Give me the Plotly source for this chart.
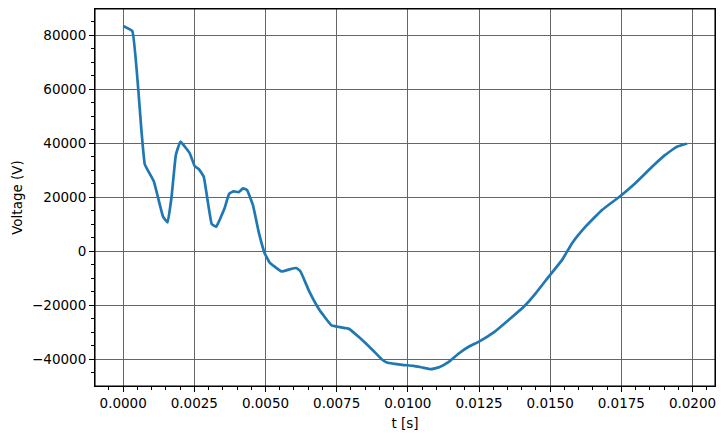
import plotly.graph_objects as go

t_s = [0.0, 0.00032, 0.00064, 0.00076, 0.00108, 0.0014, 0.00156, 0.0017, 0.00185, 0.00201,
       0.00234, 0.00251, 0.00266, 0.00283, 0.00311, 0.00327, 0.00356, 0.00372, 0.00388, 0.00406,
       0.00421, 0.00435, 0.00456, 0.00477, 0.00497, 0.00514, 0.00532, 0.00557, 0.00584, 0.00608,
       0.00623, 0.00654, 0.00689, 0.00732, 0.00754, 0.00794, 0.0083, 0.00876, 0.00911, 0.00929,
       0.00981, 0.0102, 0.01051, 0.01081, 0.0111, 0.01145, 0.0118, 0.01215, 0.0125, 0.01303,
       0.01355, 0.01408, 0.01449, 0.01495, 0.01542, 0.01577, 0.01624, 0.01682, 0.01747, 0.01799,
       0.01858, 0.01904, 0.01945, 0.01977, 0.0198]
voltage = [83500, 81600, 44900, 32200, 25800, 12800, 10700, 20200, 35700, 40600,
           36300, 31600, 30400, 27600, 10100, 9100, 15900, 21300, 22200, 21900,
           23300, 22700, 17000, 6700, -700, -4100, -5700, -7500, -6700, -6200,
           -7500, -15000, -21700, -27500, -28000, -28800, -32000, -36600, -40300, -41300,
           -42100, -42500, -43100, -43700, -43000, -40900, -37800, -35300, -33500, -30000,
           -25400, -20500, -15600, -9400, -3200, 3000, 9100, 15300, 20500, 25200,
           31300, 35700, 38700, 39800, 40000]

x_ticks = [0.0, 0.0025, 0.005, 0.0075, 0.01, 0.0125, 0.015, 0.0175, 0.02]
x_labels = ["0.0000", "0.0025", "0.0050", "0.0075", "0.0100", "0.0125", "0.0150", "0.0175", "0.0200"]
y_ticks = [-40000, -20000, 0, 20000, 40000, 60000, 80000]
y_labels = ["\u221240000", "\u221220000", "0", "20000", "40000", "60000", "80000"]

font = dict(family="DejaVu Sans", size=13.5, color="black")

fig = go.Figure()
fig.add_trace(go.Scatter(x=t_s, y=voltage, mode="lines",
                         line=dict(color="#1f77b4", width=2.7, shape="spline", smoothing=0.3),
                         showlegend=False))

axis_common = dict(
    showline=True, linecolor="black", linewidth=1.1, mirror=True,
    showgrid=True, gridcolor="#666666", gridwidth=1.1,
    zeroline=False, ticks="outside", ticklen=5, tickwidth=1.1, tickcolor="black",
    tickfont=font, automargin=False,
)

fig.update_layout(
    width=725, height=440,
    margin=dict(l=95, r=10, t=9, b=54),
    paper_bgcolor="white", plot_bgcolor="white",
    font=font,
    xaxis=dict(range=[-0.00099, 0.02079], tickvals=x_ticks, ticktext=x_labels,
               title=dict(text="t [s]", font=font, standoff=8),
               minor=dict(dtick=0.0005, tick0=0, ticks="outside", ticklen=3, tickwidth=0.9,
                          tickcolor="black", showgrid=False),
               **axis_common),
    yaxis=dict(range=[-49950, 89790], tickvals=y_ticks, ticktext=y_labels,
               title=dict(text="Voltage (V)", font=font, standoff=6),
               minor=dict(dtick=5000, tick0=0, ticks="outside", ticklen=3, tickwidth=0.9,
                          tickcolor="black", showgrid=False),
               **axis_common),
    shapes=[dict(type="rect", xref="paper", yref="paper", x0=0, y0=0, x1=1, y1=1,
                 line=dict(color="black", width=1.1), layer="above")],
)

fig.write_html("out.html", config={"displayModeBar": False},
               post_script="document.body.style.margin='0';document.body.style.overflow='hidden';")
